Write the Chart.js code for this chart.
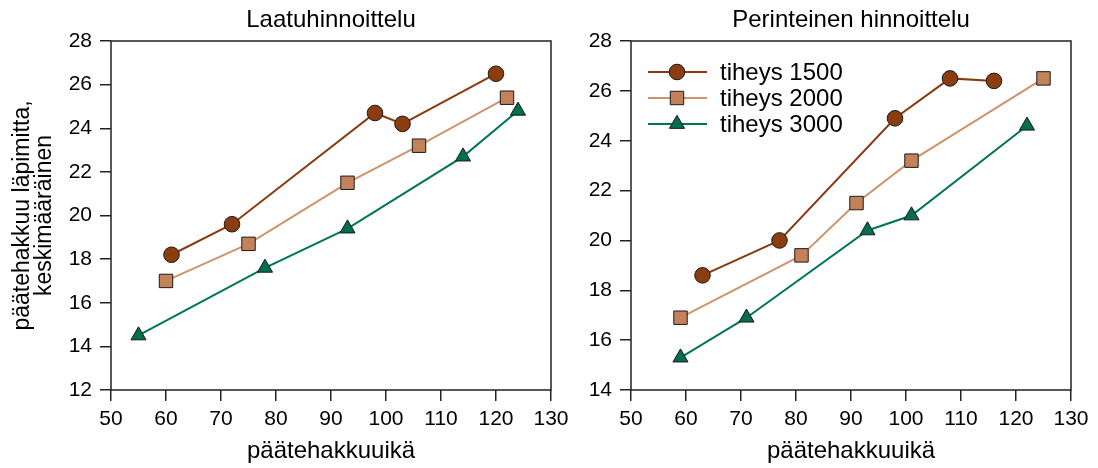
<!DOCTYPE html>
<html>
<head>
<meta charset="utf-8">
<script src="https://cdn.jsdelivr.net/npm/chart.js@4/dist/chart.umd.min.js"></script>
<style>
    html, body { margin: 0; padding: 0; background: #fff; }
    #wrap { position: relative; width: 1098px; height: 468px; overflow: hidden; }
    .box { position: absolute; top: 0; height: 468px; }
</style>
</head>
<body>
<div id="wrap">
    <div class="box" style="left:0;width:600px"><canvas id="chartLaatu"></canvas></div>
    <div class="box" style="left:565px;width:533px"><canvas id="chartPerin"></canvas></div>
</div>
<script>
//Textos
const titleLaatu = 'Laatuhinnoittelu';
const titlePerin = 'Perinteinen hinnoittelu';
const yAxisTitle = ['päätehakkuu läpimitta,', 'keskimääräinen'];
const xAxisTitle = 'päätehakkuuikä';
const seriesLabels = ['tiheys 1500', 'tiheys 2000', 'tiheys 3000'];

//Ticks
const xTickValues = [50, 60, 70, 80, 90, 100, 110, 120, 130];
const yTickLaatu = [12, 14, 16, 18, 20, 22, 24, 26, 28];
const yTickPerin = [14, 16, 18, 20, 22, 24, 26, 28];

//Laatuhinnoittelu (ikä / läpimitta)
const laatuAge1500 = [61, 72, 98, 103, 120];
const laatuDiam1500 = [18.2, 19.6, 24.7, 24.2, 26.5];
const laatuAge2000 = [60, 75, 93, 106, 122];
const laatuDiam2000 = [17.0, 18.7, 21.5, 23.2, 25.4];
const laatuAge3000 = [55, 78, 93, 114, 124];
const laatuDiam3000 = [14.5, 17.6, 19.4, 22.7, 24.8];

//Perinteinen hinnoittelu
const perinAge1500 = [63, 77, 98, 108, 116];
const perinDiam1500 = [18.6, 20.0, 24.9, 26.5, 26.4];
const perinAge2000 = [59, 81, 91, 101, 125];
const perinDiam2000 = [16.9, 19.4, 21.5, 23.2, 26.5];
const perinAge3000 = [59, 71, 93, 101, 122];
const perinDiam3000 = [15.3, 16.9, 20.4, 21.0, 24.6];

//Cores
const color1500Line = '#8a3a10';
const color1500Fill = '#8c3d10';
const color2000Line = '#cf946c';
const color2000Fill = '#c4825a';
const color3000Line = '#007556';
const color3000Fill = '#006e4f';

const fontFamily = '"Liberation Sans", Arial, sans-serif';

const seriesStyles = [
    { line: color1500Line, fill: color1500Fill, pointStyle: 'circle', radius: 7.8 },
    { line: color2000Line, fill: color2000Fill, pointStyle: 'rect', radius: 9.5 },
    { line: color3000Line, fill: color3000Fill, pointStyle: 'triangle', radius: 8.7 }
];

const toPoints = (ages, diams) => ages.map((a, i) => ({ x: a, y: diams[i] }));

const makeDatasets = (pairs) => pairs.map((p, i) => ({
    label: seriesLabels[i],
    data: toPoints(p[0], p[1]),
    showLine: true,
    borderColor: seriesStyles[i].line,
    borderWidth: 2,
    backgroundColor: seriesStyles[i].fill,
    pointStyle: seriesStyles[i].pointStyle,
    pointRadius: seriesStyles[i].radius,
    pointHoverRadius: seriesStyles[i].radius,
    pointBackgroundColor: seriesStyles[i].fill,
    pointBorderColor: '#1a1a1a',
    pointBorderWidth: 1
}));

// desenha a moldura em volta da area do grafico
const framePlugin = {
    id: 'frame',
    afterDraw: (chart) => {
        const a = chart.chartArea;
        const ctx = chart.ctx;
        ctx.save();
        ctx.strokeStyle = '#222';
        ctx.lineWidth = 1.5;
        ctx.strokeRect(a.left, a.top, a.right - a.left, a.bottom - a.top);
        ctx.restore();
    }
};

const drawMarker = (ctx, style, x, y) => {
    const r = style.radius;
    ctx.beginPath();
    if (style.pointStyle === 'circle') {
        ctx.arc(x, y, r, 0, Math.PI * 2);
    } else if (style.pointStyle === 'rect') {
        const s = r * Math.SQRT1_2;
        ctx.rect(x - s, y - s, 2 * s, 2 * s);
    } else {
        ctx.moveTo(x, y - r);
        ctx.lineTo(x + r * Math.sin(Math.PI * 2 / 3), y + r / 2);
        ctx.lineTo(x - r * Math.sin(Math.PI * 2 / 3), y + r / 2);
        ctx.closePath();
    }
    ctx.fillStyle = style.fill;
    ctx.fill();
    ctx.strokeStyle = '#1a1a1a';
    ctx.lineWidth = 1;
    ctx.stroke();
};

// legenda dentro da area do grafico (canto superior esquerdo)
const legendPlugin = {
    id: 'insideLegend',
    afterDraw: (chart) => {
        const ctx = chart.ctx;
        const a = chart.chartArea;
        const x0 = a.left + 17;
        const rows = [31, 57, 83];
        ctx.save();
        seriesLabels.forEach((lbl, i) => {
            const y = a.top + rows[i];
            ctx.strokeStyle = seriesStyles[i].line;
            ctx.lineWidth = 2;
            ctx.beginPath();
            ctx.moveTo(x0, y);
            ctx.lineTo(x0 + 59, y);
            ctx.stroke();
            drawMarker(ctx, seriesStyles[i], x0 + 29, y);
            ctx.fillStyle = '#000';
            ctx.font = '24px ' + fontFamily;
            ctx.textBaseline = 'middle';
            ctx.textAlign = 'left';
            ctx.fillText(lbl, x0 + 72, y + 1);
        });
        ctx.restore();
    }
};

const Grafico = {
    ConfigChart: (title, datasets, yTicks, opts) => {
        const axisGrid = {
            drawOnChartArea: false,
            drawTicks: true,
            tickLength: 11,
            color: '#222',
            lineWidth: 1.5
        };
        return {
            type: 'scatter',
            data: { datasets },
            options: {
                responsive: true,
                maintainAspectRatio: false,
                animation: false,
                devicePixelRatio: 1,
                layout: { padding: { left: 0, right: opts.padRight, top: 0, bottom: 0 } },
                plugins: {
                    legend: { display: false },
                    tooltip: { enabled: false },
                    title: {
                        display: true,
                        text: title,
                        fullSize: false,
                        color: '#000',
                        font: { family: fontFamily, size: 24, weight: 'normal', lineHeight: 1.2 },
                        padding: { top: 5.8, bottom: 6.4 }
                    }
                },
                scales: {
                    x: {
                        type: 'linear',
                        min: xTickValues[0],
                        max: xTickValues[xTickValues.length - 1],
                        afterBuildTicks: (scale) => { scale.ticks = xTickValues.map(v => ({ value: v })); },
                        afterFit: (scale) => { scale.height = 78; },
                        grid: axisGrid,
                        border: { display: false },
                        ticks: {
                            color: '#000',
                            padding: 6,
                            font: { family: fontFamily, size: 21 },
                            maxRotation: 0
                        },
                        title: {
                            display: true,
                            text: xAxisTitle,
                            color: '#000',
                            font: { family: fontFamily, size: 24, lineHeight: 1.2 },
                            padding: { top: 0, bottom: 2 }
                        }
                    },
                    y: {
                        type: 'linear',
                        min: yTicks[0],
                        max: yTicks[yTicks.length - 1],
                        afterBuildTicks: (scale) => { scale.ticks = yTicks.map(v => ({ value: v })); },
                        afterFit: (scale) => { scale.width = opts.yWidth; },
                        grid: axisGrid,
                        border: { display: false },
                        ticks: {
                            color: '#000',
                            padding: 8,
                            font: { family: fontFamily, size: 21 }
                        },
                        title: {
                            display: opts.yTitle,
                            text: yAxisTitle,
                            color: '#000',
                            font: { family: fontFamily, size: 23, lineHeight: 0.96 },
                            padding: { top: 12, bottom: 0 }
                        }
                    }
                }
            },
            plugins: opts.legend ? [framePlugin, legendPlugin] : [framePlugin]
        };
    },
    NewChart: (configChart, canvasId) => {
        try {
            if (configChart == undefined || canvasId == undefined) {
                return false;
            }
            return new Chart(document.getElementById(canvasId.toString()), configChart);
        } catch (error) {
            console.log(error);
        }
    }
};

Grafico.NewChart(
    Grafico.ConfigChart(titleLaatu, makeDatasets([
        [laatuAge1500, laatuDiam1500],
        [laatuAge2000, laatuDiam2000],
        [laatuAge3000, laatuDiam3000]
    ]), yTickLaatu, { yWidth: 111, padRight: 49, yTitle: true, legend: false }),
    'chartLaatu'
);

Grafico.NewChart(
    Grafico.ConfigChart(titlePerin, makeDatasets([
        [perinAge1500, perinDiam1500],
        [perinAge2000, perinDiam2000],
        [perinAge3000, perinDiam3000]
    ]), yTickPerin, { yWidth: 66, padRight: 27, yTitle: false, legend: true }),
    'chartPerin'
);
</script>
</body>
</html>
